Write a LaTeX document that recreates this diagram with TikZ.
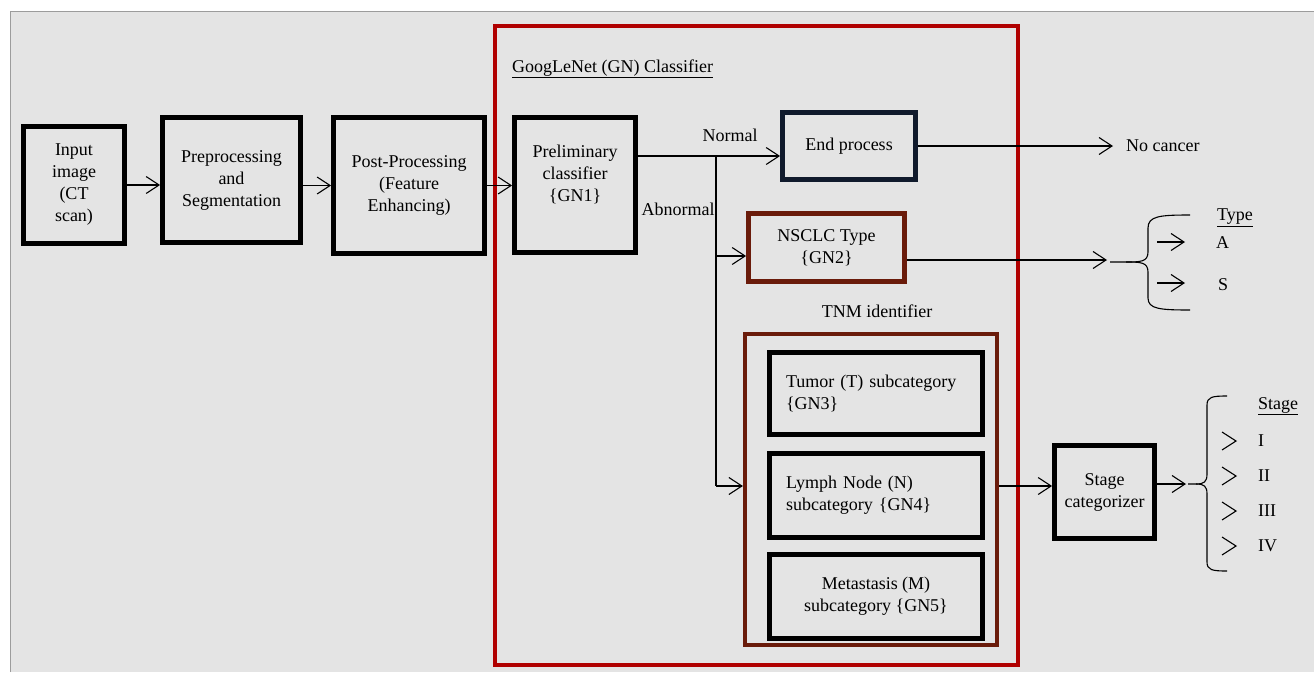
\documentclass[tikz,border=0pt]{standalone}
\usepackage{fontspec}
\setmainfont{Liberation Serif}
\usetikzlibrary{arrows.meta}
\definecolor{bgGray}{HTML}{E4E4E4}
\definecolor{edgeGray}{HTML}{9C9C9C}
\definecolor{frameRed}{HTML}{B00000}
\definecolor{boxBrown}{HTML}{6A1B0A}
\definecolor{boxNavy}{HTML}{101A2C}

\begin{document}
\begin{tikzpicture}[x=1pt,y=-1pt,
  font=\fontsize{18}{22}\selectfont,
  box/.style={draw=black, line width=4.8pt, align=center, inner sep=2pt},
  conn/.style={draw=black, line width=1.1pt},
  arr/.style={conn, -{Straight Barb[length=13pt,width=17pt]}},
  txt/.style={inner sep=0pt, anchor=west},
]
\useasboundingbox (0,0) rectangle (1314,672);
\fill[white] (0,0) rectangle (1314,672);
\fill[bgGray] (10,11) rectangle (1314,672);
\draw[edgeGray, line width=1pt] (10,672) -- (10,11) -- (1314,11);

% GoogLeNet container and its title
\node[draw=frameRed, line width=4.2pt, minimum width=523pt, minimum height=639pt] (gn) at (756.5,345.5) {};
\node[txt] (gntitle) at (512,69) {\underline{GoogLeNet (GN) Classifier}};

% main pipeline
\node[box, minimum width=101pt, minimum height=117pt] (inp) at (74,185) {Input\\image\\(CT\\scan)};
\node[box, minimum width=138pt, minimum height=125pt] (prep) at (231.5,180) {Preprocessing\\and\\Segmentation};
\node[box, minimum width=151pt, minimum height=136pt] (post) at (409,185.5) {Post-Processing\\(Feature\\Enhancing)};
\node[box, minimum width=121pt, minimum height=135pt,
      label={[align=center, yshift=11pt]center:Preliminary\\classifier\\\{GN1\}}] (prelim) at (575,185) {};

\node[box, draw=boxNavy, minimum width=133pt, minimum height=67pt] (endp) at (849,146) {End process};
\node[box, draw=boxBrown, minimum width=156pt, minimum height=68pt] (nscl) at (826.5,247.5) {NSCLC Type\\\{GN2\}};

% TNM identifier group
\node (tnmlbl) at (877,311) {TNM identifier};
\node[draw=boxBrown, line width=4.2pt, minimum width=252pt, minimum height=311pt] (tnm) at (871,489.5) {};
\node[box, minimum width=213pt, minimum height=82pt, text width=180pt, align=left] (tum) at (876,393.5) {Tumor (T) subcategory\\\{GN3\}};
\node[box, minimum width=213pt, minimum height=84pt, text width=180pt, align=left] (lym) at (876,495.5) {Lymph Node (N)\\subcategory \{GN4\}};
\node[box, minimum width=213pt, minimum height=84pt] (met) at (876,596.5) {Metastasis (M)\\subcategory \{GN5\}};

\node[box, minimum width=100pt, minimum height=93pt] (stg) at (1104.5,492) {Stage\\categorizer};

% branch labels
\node (normal) at (730,135) {Normal};
\node (abn) at (678,209) {Abnormal};

% pipeline connectors
\draw[arr] (inp.east) -- (inp.east -| prep.west);
\draw[arr] (post.west -| prep.east) -- (post.west);
\draw[arr] (post.east) -- (post.east -| prelim.west);

% branching after the preliminary classifier
\coordinate (jn) at (716,156);
\coordinate (jm) at (716,256);
\coordinate (jb) at (716,486);
\draw[conn] (prelim.east |- jn) -- (jn);
\draw[arr] (jn) -- (jn -| endp.west);
\draw[conn] (jn) -- (jb);
\draw[arr] (jm) -- (jm -| nscl.west);
\draw[arr] (jb) -- (jb -| tnm.west);

% outcome: no cancer
\node[txt] (nocancer) at (1126,146) {No cancer};
\draw[arr, shorten >=13pt] (endp.east) -- (nocancer.west);

% outcome: NSCLC type
\coordinate (tb) at (1107,260);
\draw[arr] (tb -| nscl.east) -- (tb);
\draw[conn] (1110,262) -- (1126,262) .. controls (1140,262) and (1148,262) .. (1148,252) -- (1148,228) .. controls (1148,216) and (1160,215) .. (1190,215);
\draw[conn] (1126,262) .. controls (1140,262) and (1148,262) .. (1148,272) -- (1148,298) .. controls (1148,309) and (1160,310) .. (1190,310);
\node[txt] (typelbl) at (1217,218) {\underline{Type}};
\coordinate (ta0) at (1157,242); \coordinate (ta1) at (1185,242);
\coordinate (ts0) at (1157,283); \coordinate (ts1) at (1185,283);
\draw[arr] (ta0) -- (ta1);
\draw[arr] (ts0) -- (ts1);
\node[txt] (typeA) at (1216,243) {A};
\node[txt] (typeS) at (1218,285) {S};

% outcome: stage
\draw[arr] (tnm.east |- jb) -- (jb -| stg.west);
\coordinate (sb) at (1186,484);
\draw[arr] (sb -| stg.east) -- (sb);
\draw[conn] (1188,484) -- (1196,484) .. controls (1204,484) and (1207,482) .. (1207,474) -- (1207,405) .. controls (1207,397) and (1212,396) .. (1227,396);
\draw[conn] (1196,484) .. controls (1204,484) and (1207,486) .. (1207,494) -- (1207,562) .. controls (1207,570) and (1212,571) .. (1227,571);
\node[txt] (stagelbl) at (1258,406) {\underline{Stage}};
\foreach \yy/\lab in {441/I, 476/II, 511/III, 546/IV}{
  \draw[conn] (1222,\yy-9) -- (1236,\yy) -- (1222,\yy+9);
  \node[txt] at (1258,\yy) {\lab};
}
\end{tikzpicture}
\end{document}
